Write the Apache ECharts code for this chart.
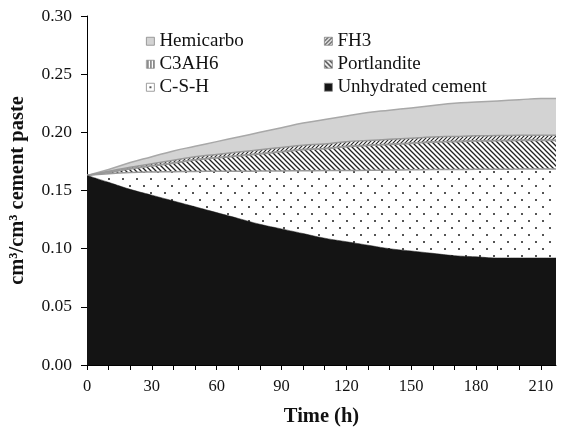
<!DOCTYPE html>
<html>
<head>
<meta charset="utf-8">
<script src="https://cdn.jsdelivr.net/npm/echarts@6/dist/echarts.min.js"></script>
<style>
html,body{margin:0;padding:0;background:#fff;}
#chart{width:561px;height:427px;}
</style>
</head>
<body>
<div id="chart"></div>
<script>
// ---- data ----
const times = [0,10,20,30,40,50,60,70,80,90,100,110,120,130,140,150,160,170,180,190,200,210,217];
const unhydrated = [0.163,0.157,0.151,0.146,0.141,0.136,0.131,0.126,0.121,0.117,0.113,0.109,0.106,0.103,0.100,0.098,0.096,0.094,0.093,0.092,0.092,0.092,0.092];
const csh = [0,0.0075,0.0145,0.020,0.0252,0.0304,0.0355,0.0406,0.0457,0.0498,0.054,0.0581,0.0612,0.0644,0.0676,0.0698,0.072,0.0741,0.0752,0.0763,0.0764,0.0765,0.0765];
const portlandite = [0,0.001,0.003,0.005,0.0073,0.0098,0.0115,0.0131,0.0147,0.0164,0.018,0.0187,0.0205,0.0212,0.0219,0.0227,0.0235,0.0239,0.0243,0.0244,0.0246,0.0245,0.0245];
const c3ah6 = [0,0.0005,0.0005,0.0005,0.0005,0.0005,0.0005,0.0005,0.0005,0.0005,0.0005,0.0005,0.0005,0.0005,0.0005,0.0005,0.0005,0.0005,0.0005,0.0005,0.0005,0.0005,0.0005];
const fh3 = [0,0.0005,0.001,0.0015,0.002,0.0023,0.0025,0.0028,0.0031,0.0033,0.0035,0.0037,0.0038,0.0039,0.004,0.004,0.004,0.004,0.004,0.004,0.004,0.004,0.004];
const hemicarbo = [0,0.0015,0.004,0.006,0.008,0.009,0.011,0.013,0.015,0.017,0.019,0.021,0.022,0.024,0.025,0.026,0.027,0.0285,0.029,0.0298,0.0305,0.0315,0.0315];
const yTicks = [0,0.05,0.10,0.15,0.20,0.25,0.30];
const xLabelValues = [0,30,60,90,120,150,180,210];
const xTickValues = [0,10,20,30,40,50,60,70,80,90,100,110,120,130,140,150,160,170,180,190,200,210];
const names = {
  hemi:'Hemicarbo', fh3:'FH3', c3:'C3AH6', port:'Portlandite', csh:'C-S-H', un:'Unhydrated cement'
};

// ---- patterns ----
function tile(w,h,draw){
  const c=document.createElement('canvas'); c.width=w; c.height=h;
  const g=c.getContext('2d'); g.fillStyle='#fff'; g.fillRect(0,0,w,h); draw(g,w,h);
  return {image:c, repeat:'repeat'};
}
const patBack = tile(5,5,(g,s)=>{ // "\" hatch
  g.strokeStyle='#222'; g.lineWidth=1.3; g.beginPath();
  g.moveTo(0,0); g.lineTo(s,s); g.moveTo(-1,s-1); g.lineTo(1,s+1); g.moveTo(s-1,-1); g.lineTo(s+1,1); g.stroke();
});
const patFwd = tile(4,4,(g,s)=>{ // "/" hatch
  g.strokeStyle='#222'; g.lineWidth=1.1; g.beginPath();
  g.moveTo(0,s); g.lineTo(s,0); g.moveTo(-1,1); g.lineTo(1,-1); g.moveTo(s-1,s+1); g.lineTo(s+1,s-1); g.stroke();
});
const patVert = tile(3,3,(g)=>{ g.fillStyle='#333'; g.fillRect(1,0,1,3); });
const patDots = tile(14,14,(g)=>{ g.fillStyle='#555'; g.fillRect(3,3,2,2); g.fillRect(10,10,2,2); });

// stacking: cumulative tops, bottom layer first
const layers = [
  {name:names.un, vals:unhydrated, fill:'#141414', line:'#141414', lw:0.5},
  {name:names.csh, vals:csh, fill:patDots, line:'#999', lw:1.5},
  {name:names.port, vals:portlandite, fill:patBack, line:'#999', lw:1.5},
  {name:names.c3, vals:c3ah6, fill:patVert, line:'#999', lw:1},
  {name:names.fh3, vals:fh3, fill:patFwd, line:'#999', lw:1.5},
  {name:names.hemi, vals:hemicarbo, fill:'#d3d3d3', line:'#a8a8a8', lw:1.5}
];
let run = times.map(()=>0);
layers.forEach(L=>{ run = run.map((r,i)=>r+L.vals[i]); L.top = run.slice(); });

const font = 'Liberation Serif';
// draw top layer first so lower layers paint over it
const series = layers.slice().reverse().map(L=>({
  name:L.name, type:'line', symbol:'none', smooth:0.5,
  data: times.map((t,i)=>[t, L.top[i]]),
  lineStyle:{color:L.line, width:L.lw},
  itemStyle:{color:L.fill},
  areaStyle:{color:L.fill, opacity:1, origin:'start'},
  emphasis:{disabled:true}
}));

const legendCommon = {
  orient:'vertical', icon:'rect', itemWidth:8, itemHeight:8, itemGap:0.5,
  textStyle:{fontFamily:font, fontSize:19, color:'#111', lineHeight:22.5},
  itemStyle:{borderColor:'#888', borderWidth:0.8},
  lineStyle:{width:0, opacity:0},
  selectedMode:false, top:25
};

const chart = echarts.init(document.getElementById('chart'), null, {renderer:'canvas'});
chart.setOption({
  animation:false,
  backgroundColor:'#fff',
  grid:{left:87, right:5, top:16, bottom:62, containLabel:false, outerBoundsMode:'none'},
  legend:[
    Object.assign({}, legendCommon, {left:141, data:[names.hemi, names.c3, names.csh]}),
    Object.assign({}, legendCommon, {left:319, data:[names.fh3, names.port, names.un]})
  ],
  xAxis:{
    type:'value', min:0, max:217, interval:10,
    name:'Time (h)', nameLocation:'middle', nameGap:41,
    nameTextStyle:{fontFamily:font, fontSize:20.5, fontWeight:'bold', color:'#111'},
    axisLine:{show:true, lineStyle:{color:'#000', width:1}},
    axisTick:{show:true, length:5, inside:false, customValues:xTickValues, lineStyle:{color:'#000'}},
    axisLabel:{customValues:xLabelValues, fontFamily:font, fontSize:16.5, color:'#111', margin:13},
    splitLine:{show:false}
  },
  yAxis:{
    type:'value', min:0, max:0.3, interval:0.05,
    name:'cm³/cm³ cement paste', nameLocation:'middle', nameGap:59, nameRotate:90,
    nameTextStyle:{fontFamily:font, fontSize:20.5, fontWeight:'bold', color:'#111'},
    axisLine:{show:true, lineStyle:{color:'#000', width:1}},
    axisTick:{show:true, length:6, inside:false, customValues:yTicks, lineStyle:{color:'#000'}},
    axisLabel:{customValues:yTicks, formatter:v=>v.toFixed(2), fontFamily:font, fontSize:17.5, color:'#111', margin:15},
    splitLine:{show:false}
  },
  series
});
</script>
</body>
</html>
